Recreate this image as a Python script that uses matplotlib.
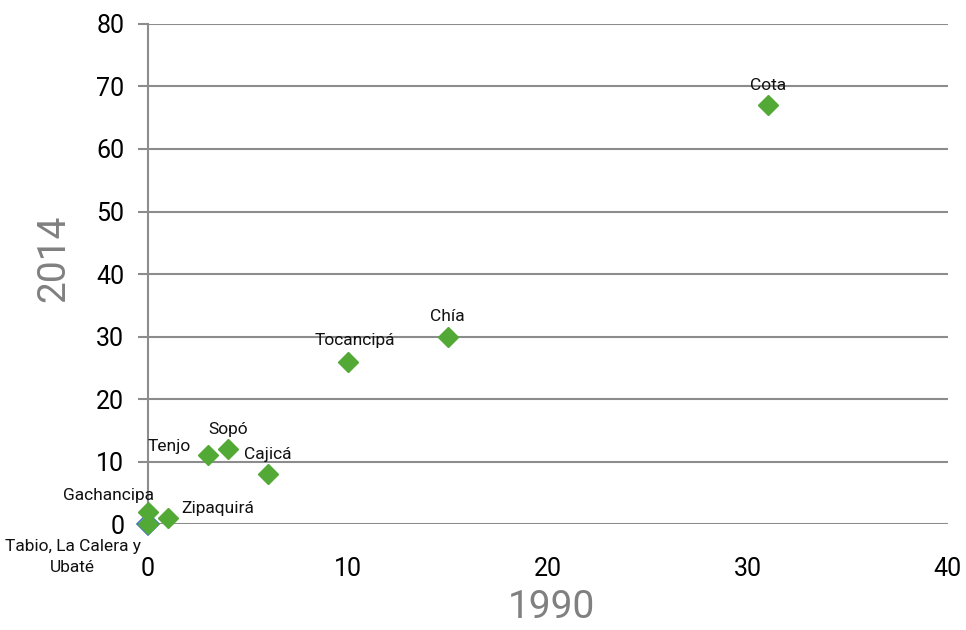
import matplotlib.pyplot as plt

plt.rcParams['font.family'] = ['Roboto', 'DejaVu Sans']

municipios = ['Cota', 'Chía', 'Tocancipá', 'Cajicá', 'Sopó', 'Tenjo',
              'Zipaquirá', 'Gachancipa', 'Tabio, La Calera y\nUbaté']
v1990 = [31, 15, 10, 6, 4, 3, 1, 0, 0]
v2014 = [67, 30, 26, 8, 12, 11, 1, 2, 0]

# label offsets (points) and alignment per point
offsets = [(0, 9), (0, 9), (5, 10), (0, 9), (0, 9), (-28, 1),
           (10, 7), (-28, 6), (-5, -11)]
aligns = [('center', 'bottom'), ('center', 'bottom'), ('center', 'bottom'),
          ('center', 'bottom'), ('center', 'bottom'), ('center', 'bottom'),
          ('left', 'center'), ('center', 'bottom'), ('right', 'top')]

green = '#52a936'
grid_c = '#8c8c8c'

fig = plt.figure(figsize=(9.66, 6.3), dpi=100)
ax = fig.add_axes([0.153, 0.168, 0.828, 0.794])

# blue outlined point hidden below the green one at the origin
ax.plot(v1990[-1:], v2014[-1:], linestyle='none', marker='D', ms=11,
        mfc='none', mec='#4472c4', mew=1.2, zorder=3, clip_on=False)
ax.plot(v1990, v2014, linestyle='none', marker='D', ms=10.5, color=green,
        mec=green, zorder=4, clip_on=False)

for name, x, y, off, (ha, va) in zip(municipios, v1990, v2014, offsets, aligns):
    ax.annotate(name, (x, y), xytext=off, textcoords='offset points',
                ha=ha, va=va, fontsize=12.5, color='#111111',
                multialignment='center', linespacing=1.45, zorder=5)

ax.set_xlim(0, 40)
ax.set_ylim(0, 80)
ax.set_xticks(range(0, 41, 10))
ax.set_yticks(range(0, 81, 10))
ax.grid(axis='y', color=grid_c, linewidth=1.5)
ax.set_axisbelow(True)

for s in ['top', 'right', 'bottom']:
    ax.spines[s].set_visible(False)
ax.spines['left'].set_color(grid_c)
ax.spines['left'].set_linewidth(1.5)

ax.tick_params(axis='y', length=7, width=1.5, color=grid_c, labelsize=18, pad=10)
ax.tick_params(axis='x', length=0, labelsize=18, pad=24)

ax.set_xlabel('1990', fontsize=28, color='#808080', va='center')
ax.set_ylabel('2014', fontsize=28, color='#808080', va='center')
ax.xaxis.set_label_coords(0.505, -0.166)
ax.yaxis.set_label_coords(-0.1175, 0.532)

fig.savefig('out.png', dpi=100)
